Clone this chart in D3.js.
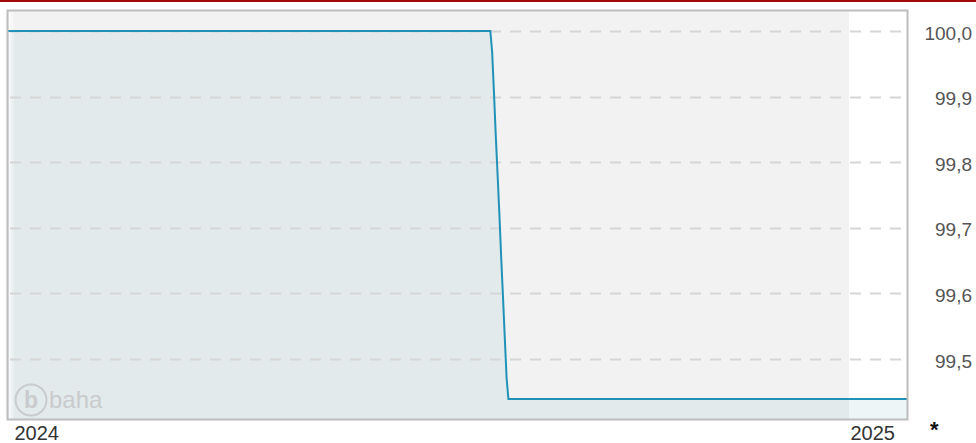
<!DOCTYPE html>
<html>
<head>
<meta charset="utf-8">
<script src="https://cdn.jsdelivr.net/npm/d3@7"></script>
<style>
  html, body { margin: 0; padding: 0; background: #fff; }
  svg { display: block; }
</style>
</head>
<body>
<svg id="chart" width="976" height="443"></svg>
<script>
// ---- data ----
const dates = [
  "2023-12-29T00:00", "2024-07-28T00:00", "2024-07-28T19:00", "2024-07-29T14:00", "2024-07-30T09:00",
  "2024-07-31T04:00", "2024-07-31T23:00", "2024-08-01T18:00", "2024-08-02T13:00", "2024-08-03T08:00",
  "2024-08-04T03:00", "2024-08-04T22:00", "2025-01-27T00:00"
];
const values = [
  100.0, 100.0, 99.968, 99.907, 99.841,
  99.782, 99.721, 99.655, 99.595, 99.532,
  99.471, 99.439, 99.439
];
const xDomain = ["2023-12-29T20:00", "2025-01-26T10:00"];
const futureStart = "2025-01-01";
const xTicks = ["2024-01-01", "2025-01-01"];
const xTickLabels = ["2024", "2025"];
const yTicks = [99.5, 99.6, 99.7, 99.8, 99.9, 100.0];
const yTickLabels = ["99,5", "99,6", "99,7", "99,8", "99,9", "100,0"];

// ---- layout ----
const svg = d3.select("#chart");
const L = 8, R = 907, T = 11, B = 419;
const parse = d3.isoParse;
const FONT = "Arial, 'Liberation Sans', sans-serif";

const x = d3.scaleTime().domain(xDomain.map(parse)).range([L, R]);
const y = d3.scaleLinear().domain([99.5, 100.0]).range([359, 31]);

const data = dates.map((d, i) => ({ date: parse(d), value: values[i] }));

// top red rule
svg.append("rect").attr("x", 0).attr("y", 0).attr("width", 976).attr("height", 2).attr("fill", "#a30b0b");

// backgrounds
svg.append("rect").attr("x", L).attr("y", T).attr("width", R - L).attr("height", B - T).attr("fill", "#f2f2f2");
const fx = x(parse(futureStart));
svg.append("rect").attr("x", fx).attr("y", T).attr("width", R - fx).attr("height", B - T).attr("fill", "#ffffff");

const defs = svg.append("defs");
defs.append("clipPath").attr("id", "past").append("rect")
  .attr("x", L).attr("y", T).attr("width", fx - L).attr("height", B - T);
defs.append("clipPath").attr("id", "future").append("rect")
  .attr("x", fx).attr("y", T).attr("width", R - fx).attr("height", B - T);
defs.append("clipPath").attr("id", "plot").append("rect")
  .attr("x", L).attr("y", T).attr("width", R - L).attr("height", B - T);
const grad = defs.append("linearGradient").attr("id", "lshade").attr("x1", 0).attr("x2", 1).attr("y1", 0).attr("y2", 0);
grad.append("stop").attr("offset", 0).attr("stop-color", "#fff").attr("stop-opacity", 0.75);
grad.append("stop").attr("offset", 1).attr("stop-color", "#fff").attr("stop-opacity", 0);

// area
const area = d3.area().x(d => x(d.date)).y0(B).y1(d => y(d.value));
svg.append("path").datum(data).attr("d", area).attr("fill", "#e2eaec").attr("clip-path", "url(#past)");
svg.append("path").datum(data).attr("d", area).attr("fill", "#eef5f7").attr("clip-path", "url(#future)");

// left inner shade
svg.append("rect").attr("x", L + 1).attr("y", T + 1).attr("width", 6).attr("height", B - T - 1).attr("fill", "url(#lshade)");

// gridlines
svg.append("g").selectAll("line").data(yTicks).join("line")
  .attr("x1", L + 2).attr("x2", R - 2)
  .attr("y1", d => Math.round(y(d)) + 0.5).attr("y2", d => Math.round(y(d)) + 0.5)
  .attr("stroke", "#d6d6d6").attr("stroke-width", 2).attr("stroke-dasharray", "11,9");

// line
const line = d3.line().x(d => x(d.date)).y(d => y(d.value));
svg.append("path").datum(data).attr("d", line)
  .attr("fill", "none").attr("stroke", "#2092b8").attr("stroke-width", 2)
  .attr("clip-path", "url(#plot)");

// border
svg.append("rect").attr("x", L - 0.5).attr("y", T - 0.5).attr("width", R - L + 1).attr("height", B - T + 1)
  .attr("fill", "none").attr("stroke", "#bdbdbd").attr("stroke-width", 2);

// y axis labels (right)
const yAxis = d3.axisRight(y).tickValues(yTicks).tickSize(0).tickPadding(0)
  .tickFormat((d, i) => yTickLabels[i]);
const gy = svg.append("g").attr("transform", `translate(972,1.5)`).call(yAxis);
gy.select(".domain").remove();
gy.selectAll("text").attr("text-anchor", "end").attr("dy", "0.35em")
  .attr("font-family", FONT).attr("font-size", 19).attr("fill", "#555");

// x axis labels
const xAxis = d3.axisBottom(x).tickValues(xTicks.map(parse)).tickSize(0).tickPadding(0)
  .tickFormat((d, i) => xTickLabels[i]);
const gx = svg.append("g").call(xAxis);
gx.select(".domain").remove();
gx.selectAll("text").attr("text-anchor", "start").attr("x", 0).attr("y", 0).attr("dy", 0)
  .attr("transform", "translate(1,440)")
  .attr("font-family", FONT).attr("font-size", 20).attr("fill", "#333");

// asterisk
svg.append("text").attr("x", 930).attr("y", 437).text("*")
  .attr("font-family", FONT).attr("font-size", 22).attr("font-weight", "bold").attr("fill", "#111");

// baha watermark
const wm = svg.append("g");
wm.append("circle").attr("cx", 31).attr("cy", 400).attr("r", 15.5)
  .attr("fill", "none").attr("stroke", "#c9cbcc").attr("stroke-width", 2);
wm.append("text").attr("x", 31).attr("y", 408).attr("text-anchor", "middle").text("b")
  .attr("font-family", FONT).attr("font-weight", "bold").attr("font-size", 23).attr("fill", "#c9cbcc");
wm.append("text").attr("x", 49).attr("y", 408).text("baha")
  .attr("font-family", FONT).attr("font-size", 24).attr("fill", "#c9cbcc");
</script>
</body>
</html>
